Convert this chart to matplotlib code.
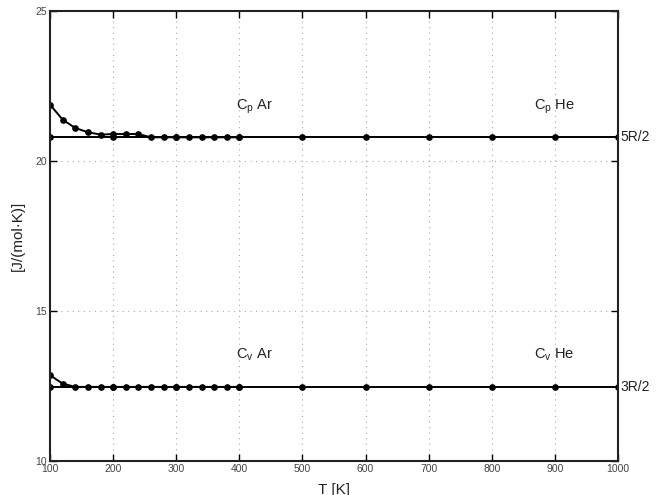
import numpy as np
import matplotlib
matplotlib.use('Agg')
import matplotlib.pyplot as plt

plt.rcParams['font.family'] = ['Liberation Sans', 'DejaVu Sans']
plt.rcParams['mathtext.fontset'] = 'custom'
plt.rcParams['mathtext.rm'] = 'Liberation Sans'
plt.rcParams['mathtext.it'] = 'Liberation Sans'

R = 8.314

# argon (measured), 100..400 K step 20
T_ar = [100, 120, 140, 160, 180, 200, 220, 240, 260, 280, 300, 320, 340, 360, 380, 400]
cp_ar = [21.88, 21.38, 21.10, 20.96, 20.88, 20.90, 20.90, 20.90, 20.79, 20.79,
         20.79, 20.79, 20.79, 20.79, 20.79, 20.79]
cv_ar = [12.86, 12.58, 12.47, 12.47, 12.47, 12.47, 12.47, 12.47, 12.47, 12.47,
         12.47, 12.47, 12.47, 12.47, 12.47, 12.47]

# helium, 100..1000 K step 100
T_he = [100, 200, 300, 400, 500, 600, 700, 800, 900, 1000]
cp_he = [20.79] * 10
cv_he = [12.47] * 10

fig = plt.figure(figsize=(6.59, 4.95), dpi=100)
ax = fig.add_axes([0.0759, 0.0687, 0.862, 0.909])

style = dict(color='black', lw=1.4, marker='o', ms=3.8)
ax.plot(T_he, cp_he, **style)
ax.plot(T_he, cv_he, **style)
ax.plot(T_ar, cp_ar, **style)
ax.plot(T_ar, cv_ar, **style)

ax.set_xlim(100, 1000)
ax.set_ylim(10, 25)
ax.set_xticks(range(100, 1001, 100))
ax.set_yticks([10, 15, 20, 25])
ax.grid(True, ls=(0, (1, 4)), color='#aaaaaa', lw=0.8)
ax.tick_params(direction='in', top=True, right=True, length=5, width=1,
               labelsize=7.5, labelcolor='#444444', pad=2)
for s in ax.spines.values():
    s.set_linewidth(1.5)
    s.set_color('#222222')

ax.text(395, 21.7, r'C$_\mathregular{p}$ Ar', fontsize=10.5, color='#222222')
ax.text(867, 21.7, r'C$_\mathregular{p}$ He', fontsize=10.5, color='#222222')
ax.text(395, 13.4, r'C$_\mathregular{v}$ Ar', fontsize=10.5, color='#222222')
ax.text(867, 13.4, r'C$_\mathregular{v}$ He', fontsize=10.5, color='#222222')
ax.text(1003, 2.5 * R, '5R/2', fontsize=10, color='#222222', va='center', clip_on=False)
ax.text(1003, 1.5 * R, '3R/2', fontsize=10, color='#222222', va='center', clip_on=False)

ax.set_xlabel('T [K]', fontsize=11, color='#222222', labelpad=7)
ax.set_ylabel('[J/(mol·K)]', fontsize=11, color='#222222', labelpad=8)

fig.savefig('out.png', dpi=100)
